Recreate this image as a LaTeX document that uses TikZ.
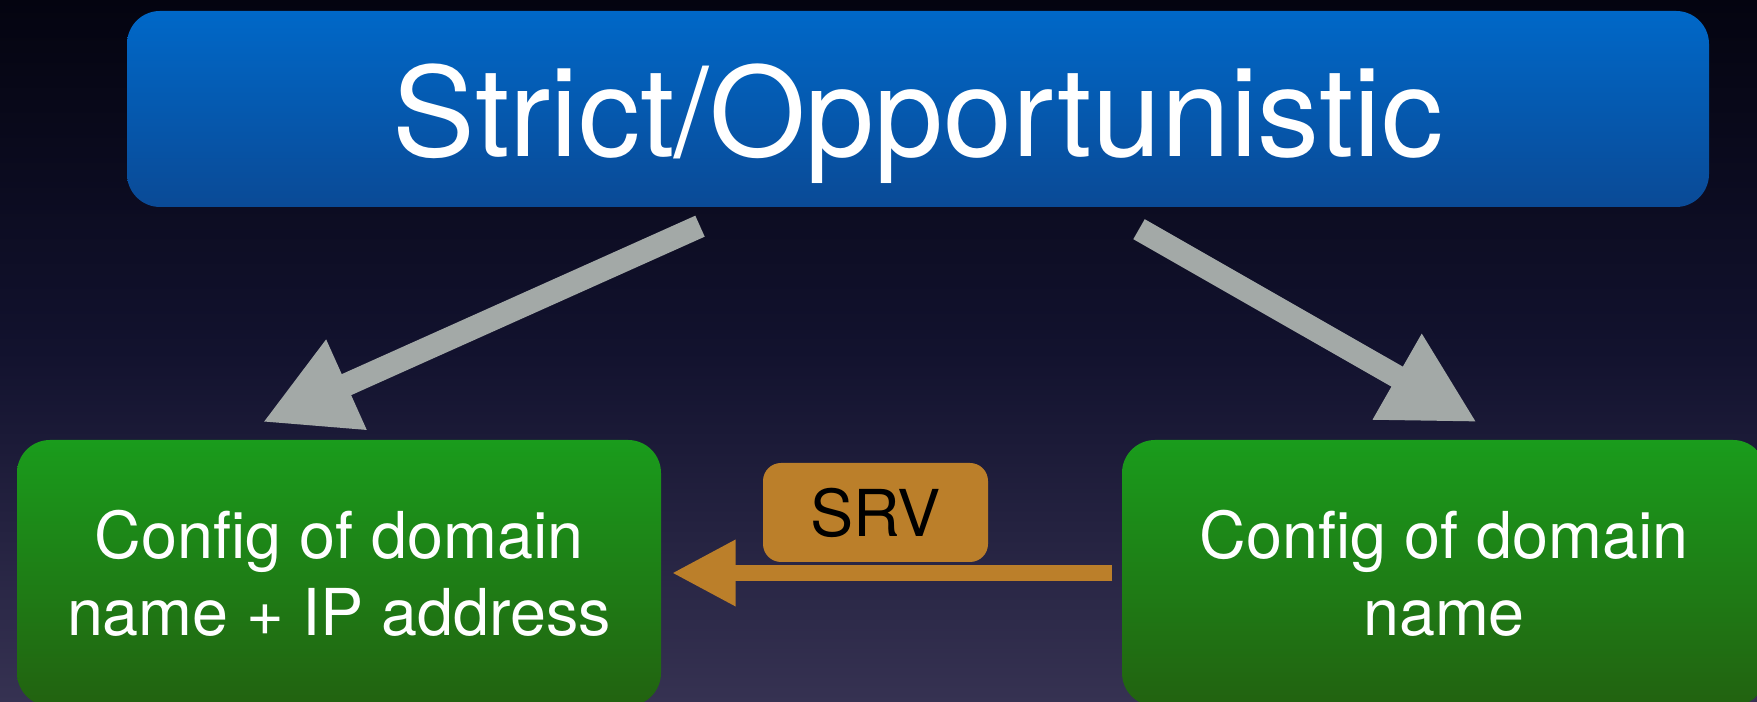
\documentclass[tikz,border=0pt]{standalone}
\usepackage{fontspec}
\setmainfont{TeX Gyre Heros}
\usetikzlibrary{arrows.meta}

\begin{document}
\begin{tikzpicture}[x=0.1mm, y=0.1mm]

  \definecolor{my_bg_top}{RGB}{4,4,16}
  \definecolor{my_bg_mid}{RGB}{18,18,46}
  \definecolor{my_bg_bottom}{RGB}{54,50,82}
  \definecolor{my_blue_top}{RGB}{0,104,200}
  \definecolor{my_blue_bottom}{RGB}{10,74,150}
  \definecolor{my_green_top}{RGB}{26,156,28}
  \definecolor{my_green_bottom}{RGB}{34,98,16}
  \definecolor{my_orange}{RGB}{187,127,42}
  \definecolor{my_gray}{RGB}{163,169,167}

  \tikzstyle{block} = [rectangle, rounded corners=3.3mm, inner sep=0pt, text=white]
  \tikzstyle{config} = [block, top color=my_green_top, bottom color=my_green_bottom, minimum width=64.4mm, minimum height=26.6mm, align=center, font=\fontsize{18.4pt}{21.9pt}\selectfont]
  \tikzstyle{flow} = [draw=my_gray, line width=2.3mm, -{Triangle[length=9.2mm, width=9.2mm]}]

  \useasboundingbox (0,0) rectangle (1757,702);
  \clip (0,0) rectangle (1757,702);
  \shade [top color=my_bg_top, bottom color=my_bg_bottom, middle color=my_bg_mid] (0,0) rectangle (1757,702);

%	\tikzstyle{every node}=[font=\fontsize{35}{0}\selectfont]

  \node [block, top color=my_blue_top, bottom color=my_blue_bottom, minimum width=158.2mm, minimum height=19.6mm, text height=12.2mm, text depth=2.6mm, font=\fontsize{35.3pt}{42pt}\selectfont] (mode) at (918,593) {Strict/Opportunistic};
  \node [config] (nameip) at (339,129) {Config of domain\\name + IP address};
  \node [config] (nameonly) at (1444,129) {Config of domain\\name};
  \node [block, rounded corners=1.8mm, fill=my_orange, text=black, minimum width=22.5mm, minimum height=9.9mm, font=\fontsize{18.4pt}{21.9pt}\selectfont] (srv) at (875.5,189.5) {SRV};

  \path [flow] ([shift={(-218,-18.5)}]mode.south) -- ([shift={(-76.5,17)}]nameip.north);
  \path [flow] ([shift={(221,-21.5)}]mode.south) -- ([shift={(33,17)}]nameonly.north);
  \path [draw=my_orange, line width=1.6mm, -{Triangle[length=6.4mm, width=6.2mm]}] ([xshift=-0.9mm]nameonly.west) -- ([xshift=1mm]nameip.east);

\end{tikzpicture}
\end{document}
